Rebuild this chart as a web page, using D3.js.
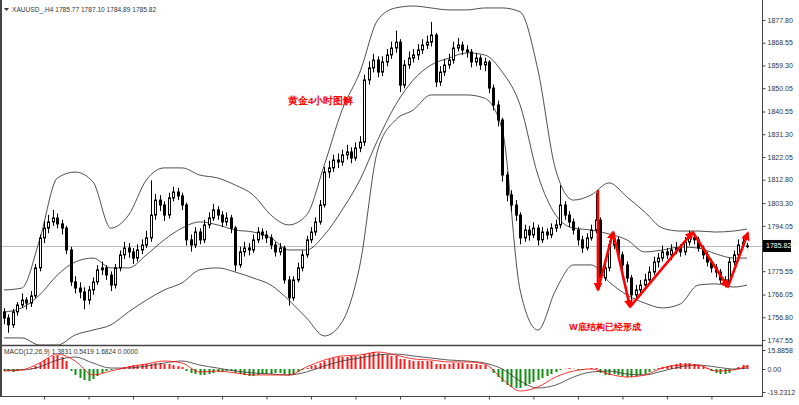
<!DOCTYPE html>
<html><head><meta charset="utf-8">
<script src="https://cdn.jsdelivr.net/npm/d3@7"></script>
<style>
body{margin:0;background:#fff}
svg{display:block}
text{font-family:"Liberation Sans",Arial,sans-serif}
</style>
</head><body>
<svg id="c" width="799" height="405"></svg>
<script>
// ---------------- DATA ----------------
const symbolTitle = "XAUUSD_,H4 1785.77 1787.10 1784.89 1785.82";
const macdTitle = "MACD(12,26,9) 1.3831 0.5419 1.6824 0.0000";

const opens = [
1759.0,1756.5,1753.7,1759.0,1761.8,1763.8,1762.6,1765.5,1776.9,1789.1,
1793.1,1795.6,1797.2,1794.8,1793.1,1784.2,1771.2,1768.7,1767.1,1763.8,
1767.9,1771.2,1776.1,1776.9,1774.0,1769.9,1776.9,1782.2,1785.0,1783.4,
1780.9,1784.2,1786.2,1789.1,1798.4,1804.5,1802.5,1798.4,1805.4,1807.8,
1806.2,1802.5,1788.3,1786.2,1791.5,1788.3,1794.4,1797.2,1800.5,1798.4,
1795.6,1797.2,1793.1,1778.1,1783.4,1785.0,1784.2,1788.3,1791.5,1790.3,
1789.1,1786.2,1783.4,1785.0,1772.0,1764.7,1772.0,1776.9,1782.2,1788.3,
1791.5,1795.6,1802.5,1815.9,1817.6,1820.8,1820.0,1822.9,1824.1,1821.6,
1825.7,1828.1,1853.4,1858.3,1861.5,1856.6,1860.7,1863.6,1866.4,1868.8,
1851.3,1859.5,1862.3,1863.6,1865.6,1867.6,1868.8,1871.7,1852.6,1856.6,
1859.5,1861.5,1866.4,1867.6,1865.6,1864.8,1860.7,1862.3,1859.5,1860.7,
1850.1,1843.2,1837.1,1814.7,1806.6,1802.5,1798.4,1789.1,1792.3,1790.3,
1793.1,1788.3,1791.5,1790.3,1793.1,1794.4,1802.5,1798.4,1795.6,1792.3,
1788.3,1785.0,1789.1,1792.3,1796.4,1772.8,1776.9,1786.2,1788.3,1782.2,
1778.1,1772.8,1765.9,1767.9,1769.9,1772.0,1775.2,1779.3,1780.9,1783.4,
1782.2,1784.2,1785.0,1783.4,1787.4,1789.1,1788.3,1785.0,1782.2,1779.3,
1776.9,1775.2,1772.0,1771.2,1779.3,1782.2,1786.2,1785.77];

const highs = [
1760.5,1758.0,1760.2,1763.0,1766.5,1765.0,1767.5,1778.5,1790.5,1796.0,
1798.5,1800.5,1799.0,1796.5,1794.0,1785.5,1773.5,1771.0,1769.0,1769.5,
1773.0,1778.0,1779.5,1778.0,1775.5,1778.5,1784.0,1787.5,1787.0,1785.0,
1786.5,1788.5,1792.0,1812.5,1807.0,1806.5,1804.0,1807.5,1810.0,1809.5,
1807.5,1803.5,1790.5,1793.5,1793.0,1796.5,1799.5,1803.0,1802.0,1800.0,
1799.5,1798.5,1794.0,1785.5,1787.5,1787.0,1790.5,1793.5,1793.0,1792.0,
1790.5,1787.5,1787.0,1786.0,1773.5,1773.5,1779.0,1784.0,1790.0,1793.5,
1797.5,1804.5,1818.0,1820.5,1823.0,1823.5,1825.0,1827.0,1826.0,1828.0,
1830.5,1855.5,1861.0,1864.0,1863.0,1863.0,1866.0,1869.0,1873.5,1870.0,
1861.5,1865.0,1866.0,1868.0,1870.0,1871.5,1877.0,1872.5,1859.0,1862.0,
1864.0,1869.0,1870.5,1869.0,1867.5,1866.0,1864.5,1863.5,1862.5,1861.5,
1851.5,1845.0,1838.0,1816.0,1808.5,1804.5,1799.5,1794.5,1794.0,1795.5,
1794.5,1793.5,1793.0,1795.0,1796.5,1810.5,1804.0,1800.0,1797.0,1793.5,
1790.0,1791.0,1794.5,1807.5,1797.5,1779.0,1788.0,1791.0,1789.5,1783.5,
1779.5,1774.0,1770.0,1772.0,1774.5,1777.5,1781.5,1783.0,1786.0,1785.0,
1786.5,1787.5,1786.5,1789.5,1792.0,1791.0,1789.5,1786.0,1783.5,1780.5,
1778.5,1776.5,1773.5,1781.0,1784.0,1788.5,1790.0,1787.10];

const lows = [
1754.0,1750.5,1752.5,1757.5,1760.5,1760.0,1761.0,1764.5,1775.5,1787.0,
1791.0,1794.0,1793.0,1790.5,1782.5,1769.5,1766.5,1764.5,1760.0,1762.0,
1766.0,1770.0,1774.0,1772.0,1767.5,1768.5,1775.5,1780.5,1781.0,1778.5,
1779.5,1782.5,1785.0,1787.5,1796.5,1800.0,1796.0,1797.0,1804.0,1804.5,
1800.5,1786.0,1783.5,1785.0,1786.5,1787.0,1793.0,1796.0,1796.5,1793.5,
1794.0,1791.0,1775.5,1777.0,1781.5,1782.0,1783.0,1787.0,1788.5,1787.0,
1784.5,1781.5,1782.0,1770.5,1761.5,1763.5,1771.0,1775.5,1781.0,1787.0,
1790.0,1794.5,1801.5,1813.5,1816.0,1817.5,1818.5,1821.0,1819.5,1820.5,
1824.0,1826.5,1851.5,1856.5,1854.5,1855.0,1859.0,1862.0,1864.5,1848.5,
1850.0,1858.0,1860.5,1861.5,1864.0,1866.0,1867.0,1850.5,1851.0,1855.0,
1858.0,1860.0,1865.0,1863.5,1862.5,1858.5,1859.0,1857.5,1857.0,1848.0,
1841.0,1834.5,1812.0,1804.0,1800.0,1796.0,1786.5,1787.5,1788.0,1789.0,
1786.0,1787.0,1788.5,1789.0,1791.5,1793.0,1796.5,1793.5,1790.5,1786.0,
1783.0,1784.0,1788.0,1791.0,1770.0,1771.5,1775.5,1784.5,1780.5,1776.0,
1771.0,1762.0,1764.0,1766.5,1768.5,1770.5,1774.0,1777.0,1779.5,1780.5,
1780.0,1782.5,1781.5,1782.0,1786.0,1786.5,1783.5,1780.5,1777.5,1775.0,
1773.0,1770.5,1769.0,1770.0,1778.0,1781.0,1785.0,1784.89];

const closes = [
1756.5,1753.7,1759.0,1761.8,1763.8,1762.6,1765.5,1776.9,1789.1,1793.1,
1795.6,1797.2,1794.8,1793.1,1784.2,1771.2,1768.7,1767.1,1763.8,1767.9,
1771.2,1776.1,1776.9,1774.0,1769.9,1776.9,1782.2,1785.0,1783.4,1780.9,
1784.2,1786.2,1789.1,1798.4,1804.5,1802.5,1798.4,1805.4,1807.8,1806.2,
1802.5,1788.3,1786.2,1791.5,1788.3,1794.4,1797.2,1800.5,1798.4,1795.6,
1797.2,1793.1,1778.1,1783.4,1785.0,1784.2,1788.3,1791.5,1790.3,1789.1,
1786.2,1783.4,1785.0,1772.0,1764.7,1772.0,1776.9,1782.2,1788.3,1791.5,
1795.6,1802.5,1815.9,1817.6,1820.8,1820.0,1822.9,1824.1,1821.6,1825.7,
1828.1,1853.4,1858.3,1861.5,1856.6,1860.7,1863.6,1866.4,1868.8,1851.3,
1859.5,1862.3,1863.6,1865.6,1867.6,1868.8,1871.7,1852.6,1856.6,1859.5,
1861.5,1866.4,1867.6,1865.6,1864.8,1860.7,1862.3,1859.5,1860.7,1850.1,
1843.2,1837.1,1814.7,1806.6,1802.5,1798.4,1789.1,1792.3,1790.3,1793.1,
1788.3,1791.5,1790.3,1793.1,1794.4,1802.5,1798.4,1795.6,1792.3,1788.3,
1785.0,1789.1,1792.3,1796.4,1772.8,1776.9,1786.2,1788.3,1782.2,1778.1,
1772.8,1765.9,1767.9,1769.9,1772.0,1775.2,1779.3,1780.9,1783.4,1782.2,
1784.2,1785.0,1783.4,1787.4,1789.1,1788.3,1785.0,1782.2,1779.3,1776.9,
1775.2,1772.0,1771.2,1779.3,1782.2,1786.2,1787.4,1785.82];

// Bollinger band readings (sampled at these bar indices)
const bandIdx = [0,4,8,12,16,20,24,28,32,36,40,44,48,52,56,60,64,68,72,76,80,84,88,92,96,100,104,108,112,116,120,124,128,132,136,140,144,148,152,156,160,164,167];
const bandUpper = [1767.9,1768.7,1788.3,1813.5,1815.9,1811.9,1793.1,1798.4,1812.7,1817.6,1817.6,1814.7,1813.5,1810.6,1806.6,1798.4,1794.4,1798.4,1818.8,1841.2,1856.6,1877.8,1882.7,1883.5,1882.7,1881.9,1881.9,1882.7,1882.7,1881.1,1857.5,1816.8,1804.5,1806.6,1811.5,1805.8,1799.7,1793.1,1791.9,1791.9,1791.5,1791.9,1792.7];
const bandMiddle = [1758.9,1760.6,1765.9,1774.0,1779.3,1780.9,1776.9,1776.9,1782.2,1788.3,1793.1,1795.6,1794.4,1792.3,1791.5,1789.1,1784.2,1784.2,1790.3,1800.5,1812.7,1829.0,1843.2,1853.4,1859.5,1862.3,1864.4,1863.6,1856.6,1843.2,1814.7,1798.4,1793.1,1792.3,1790.7,1788.3,1783.4,1784.2,1785.4,1785.0,1782.6,1780.9,1780.9];
const bandLower = [1748.4,1748.4,1745.5,1745.5,1749.6,1751.6,1753.7,1759.0,1763.8,1767.9,1770.8,1776.1,1776.9,1775.2,1772.8,1769.9,1763.8,1756.5,1749.2,1754.9,1778.1,1824.9,1837.1,1841.2,1847.3,1847.3,1847.3,1846.0,1833.0,1767.9,1751.6,1767.9,1778.1,1778.1,1771.2,1765.9,1762.6,1760.6,1762.2,1769.9,1770.4,1769.1,1769.9];

// MACD histogram (one per bar)
const macdHist = [
-1.7,-1.7,-2.5,-1.7,-0.8,0.2,0.8,
2.5,5.0,7.5,9.2,10.9,11.7,10.0,6.7,
-1.7,-5.0,-7.5,-9.2,-10.0,-8.4,-5.9,-3.3,
-1.7,-0.8,0.2,0.8,
1.7,2.5,3.3,3.3,4.2,4.2,4.2,5.0,5.0,4.2,4.2,3.3,2.5,1.7,
-1.7,-3.3,-4.2,-5.0,-5.0,-4.2,-3.3,-2.5,-2.5,-1.7,-1.7,
-3.3,-4.2,-5.0,-5.9,-5.9,-5.0,-4.2,-4.2,-4.2,-3.3,-3.3,-4.2,-5.0,
-4.2,-2.5,-0.8,0.8,2.5,3.3,
5.0,6.7,8.4,9.2,10.0,10.0,10.0,10.9,10.9,10.9,
12.5,13.4,14.2,13.4,12.5,11.7,10.9,10.9,8.4,8.4,7.5,6.7,6.7,6.7,6.7,6.7,
4.2,4.2,4.2,4.2,5.0,5.0,5.0,4.2,4.2,4.2,3.3,3.3,
0.2,-3.3,-6.7,-10.9,-13.4,-15.0,-15.9,-15.9,
-14.2,-12.5,-10.9,-9.2,-7.5,-5.9,-4.2,-2.5,
-0.8,0.2,0.8,0.2,-0.8,-0.8,0.2,0.8,0.8,
-3.3,-5.0,-5.0,-4.2,-5.0,-5.9,-6.7,-6.7,-5.9,-5.0,-4.2,
-2.5,-0.8,0.8,1.7,2.5,3.3,
4.2,5.0,5.0,5.0,4.2,3.3,2.5,0.8,
-1.7,-3.3,-4.2,-4.2,-3.3,
-0.8,1.7,3.3,3.3];
// MACD lines (sampled at bandIdx)
const macdRed = [-1.7,-0.8,5.0,12.5,6.7,-5.0,-1.7,1.7,4.2,6.7,5.0,-2.5,-1.7,-3.3,-5.0,-5.0,-5.0,1.7,7.5,10.9,11.7,14.2,11.7,8.4,7.5,5.9,5.9,4.2,-8.4,-18.4,-15.0,-6.7,-1.7,0,-4.2,-6.7,-5.0,0.8,3.3,3.3,-1.7,-0.8,2.5];
const macdSignal = [-0.8,-0.8,1.7,7.5,10.0,5.0,0.8,0.8,2.5,5.0,6.7,3.3,0.8,-1.7,-3.3,-4.2,-5.0,-2.5,2.5,6.7,9.2,11.7,12.5,10.9,9.2,7.5,6.7,5.0,0,-10.0,-15.9,-13.4,-6.7,-2.5,-1.7,-4.2,-5.0,-1.7,1.7,3.3,1.7,0,0.8];

const priceTicks = [1877.80,1868.55,1859.30,1850.05,1840.55,1831.30,1822.05,1812.80,1803.30,1794.05,1775.55,1766.05,1756.80,1747.55];
const macdTicks = [15.8858, 0, -19.2312];
const macdTickLabels = ["15.8858","0.00","-19.2312"];
const timeTickBars = [9,19,29,39,49,59,69,79,89,99,109,119,129,139,149,159];

// hand-drawn W pattern (bar index, price)
const wPath = [[133.5,1808.6],[133.5,1767.9],[136.9,1791.5],[140.7,1761.0],[154.8,1791.5],[162.7,1769.1],[167.2,1791.1]];
const notes = [
  {text:"黄金4小时图解", bar:71.2, price:1845.2, size:9.8},
  {text:"W底结构已经形成", bar:135.1, price:1752.8, size:9}
];

// ---------------- CHART ----------------
const svg = d3.select("#c");
const plotL = 2, plotR = 762, mainB = 345, macdT = 347, macdB = 396;
const x = d3.scaleLinear().domain([0,167]).range([4,747]);
const y = d3.scaleLinear().domain([1747.55,1877.80]).range([340,20]);
const ym = d3.scaleLinear().domain([-19.2312,15.8858]).range([392,350]);

const defs = svg.append("defs");
defs.append("clipPath").attr("id","cm").append("rect").attr("x",plotL).attr("y",1).attr("width",plotR-plotL).attr("height",mainB-1);
defs.append("clipPath").attr("id","cd").append("rect").attr("x",plotL).attr("y",macdT).attr("width",plotR-plotL).attr("height",macdB-macdT);
const mk = defs.append("marker").attr("id","ah").attr("viewBox","0 0 10 10").attr("refX",8).attr("refY",5)
  .attr("markerWidth",3.4).attr("markerHeight",3.4).attr("orient","auto-start-reverse");
mk.append("path").attr("d","M0,0L10,5L0,10z").attr("fill","#ff0000");

const gm = svg.append("g").attr("clip-path","url(#cm)");
const gd = svg.append("g").attr("clip-path","url(#cd)");

// current price line
const last = closes[closes.length-1];
gm.append("line").attr("x1",plotL).attr("x2",plotR).attr("y1",Math.round(y(last))+0.5).attr("y2",Math.round(y(last))+0.5)
  .attr("stroke","#c0c0c0").attr("stroke-width",1);

// bands
const bandLine = d3.line().x((d,i)=>x(bandIdx[i])).y(d=>y(d)).curve(d3.curveMonotoneX);
[bandUpper,bandMiddle,bandLower].forEach(arr=>{
  gm.append("path").attr("d",bandLine(arr)).attr("fill","none").attr("stroke","#222").attr("stroke-width",0.8);
});

// candles
const bars = closes.map((c,i)=>({i,o:opens[i],h:highs[i],l:lows[i],c}));
gm.selectAll("line.w").data(bars).join("line").attr("class","w")
  .attr("x1",d=>Math.round(x(d.i))+0.5).attr("x2",d=>Math.round(x(d.i))+0.5)
  .attr("y1",d=>y(d.h)).attr("y2",d=>y(d.l)).attr("stroke","#000").attr("stroke-width",1);
gm.selectAll("rect.b").data(bars).join("rect").attr("class","b")
  .attr("x",d=>Math.round(x(d.i))-0.5).attr("width",2)
  .attr("y",d=>y(Math.max(d.o,d.c)))
  .attr("height",d=>Math.max(0.6,Math.abs(y(d.o)-y(d.c))))
  .attr("fill",d=>d.c>=d.o?"#fff":"#000").attr("stroke","#000").attr("stroke-width",1);

// W pattern arrows
for(let k=0;k<wPath.length-1;k++){
  const a=wPath[k], b=wPath[k+1];
  gm.append("line").attr("x1",x(a[0])).attr("y1",y(a[1])).attr("x2",x(b[0])).attr("y2",y(b[1]))
    .attr("stroke","#ff0000").attr("stroke-width",2.6).attr("marker-end","url(#ah)");
}

// notes
svg.selectAll("text.note").data(notes).join("text").attr("class","note")
  .attr("x",d=>x(d.bar)).attr("y",d=>y(d.price)).attr("dy","0.35em").attr("text-anchor","middle")
  .attr("font-family","'Noto Sans CJK SC',sans-serif").attr("font-weight","bold")
  .attr("font-size",d=>d.size).attr("fill","#ff0000").text(d=>d.text);

// MACD histogram
gd.selectAll("line.h").data(macdHist).join("line").attr("class","h")
  .attr("x1",(d,i)=>Math.round(x(i))+0.5).attr("x2",(d,i)=>Math.round(x(i))+0.5)
  .attr("y1",ym(0)).attr("y2",d=>ym(d))
  .attr("stroke",d=>d>=0?"#ff1a1a":"#109010").attr("stroke-width",2);
const mline = d3.line().x((d,i)=>x(bandIdx[i])).y(d=>ym(d)).curve(d3.curveMonotoneX);
gd.append("path").attr("d",mline(macdSignal)).attr("fill","none").attr("stroke","#333").attr("stroke-width",0.8);
gd.append("path").attr("d",mline(macdRed)).attr("fill","none").attr("stroke","#ff0000").attr("stroke-width",0.8);

// frame
const frame = svg.append("g").attr("stroke","#444");
frame.append("line").attr("x1",1).attr("x2",1).attr("y1",0).attr("y2",macdB+1).attr("stroke-width",2);
frame.append("line").attr("x1",plotR+0.5).attr("x2",plotR+0.5).attr("y1",0).attr("y2",macdB+1).attr("stroke-width",1);
frame.append("line").attr("x1",0).attr("x2",plotR).attr("y1",mainB+0.5).attr("y2",mainB+0.5).attr("stroke-width",1.5);
frame.append("line").attr("x1",0).attr("x2",plotR).attr("y1",macdB+0.5).attr("y2",macdB+0.5).attr("stroke-width",1);

// right axis (price)
const ax = svg.append("g").attr("transform",`translate(${plotR+0.5},0)`)
  .call(d3.axisRight(y).tickValues(priceTicks).tickFormat(d3.format(".2f")).tickSize(3).tickPadding(2));
ax.select(".domain").remove();
ax.selectAll("line").attr("stroke","#444");
ax.selectAll("text").attr("font-size",7).attr("fill","#333").attr("font-family","'Liberation Sans',Arial,sans-serif");

// current price tag
const py = y(last);
svg.append("rect").attr("x",plotR+1).attr("y",py-6).attr("width",28).attr("height",12).attr("fill","#000");
svg.append("text").attr("x",plotR+4).attr("y",py).attr("dy","0.35em").attr("font-size",7).attr("fill","#fff").text(d3.format(".2f")(last));

// MACD axis
const am = svg.append("g").attr("transform",`translate(${plotR+0.5},0)`)
  .call(d3.axisRight(ym).tickValues(macdTicks).tickFormat((d,i)=>macdTickLabels[i]).tickSize(3).tickPadding(2));
am.select(".domain").remove();
am.selectAll("line").attr("stroke","#444");
am.selectAll("text").attr("font-size",7).attr("fill","#333");

// time ticks
const at = svg.append("g").attr("transform",`translate(0,${macdB+0.5})`)
  .call(d3.axisBottom(x).tickValues(timeTickBars).tickFormat("").tickSizeInner(3).tickSizeOuter(0));
at.select(".domain").remove();
at.selectAll("line").attr("stroke","#444");

// titles
svg.append("path").attr("d","M4,8L9,8L6.5,11z").attr("fill","#333");
svg.append("text").attr("x",12).attr("y",12).attr("font-size",6.6).attr("fill","#333").text(symbolTitle);
svg.append("text").attr("x",4).attr("y",354).attr("font-size",6.6).attr("fill","#333").text(macdTitle);
</script>
</body></html>
